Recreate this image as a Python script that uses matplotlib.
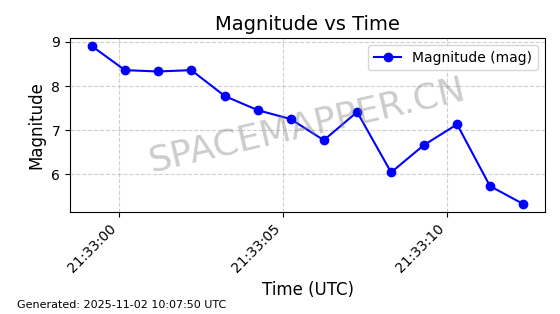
import matplotlib
matplotlib.use("Agg")
import matplotlib.pyplot as plt
import matplotlib.dates as mdates
import pandas as pd

# seconds after 21:33:00 UTC
time_offsets = [-0.823, 0.192, 1.198, 2.213, 3.238, 4.244, 5.240, 6.250,
                7.265, 8.300, 9.300, 10.310, 11.310, 12.330]
magnitudes = [8.91, 8.36, 8.33, 8.36, 7.77, 7.45, 7.25, 6.77,
              7.41, 6.04, 6.66, 7.13, 5.73, 5.32]
base_time = pd.Timestamp("2025-11-01 21:33:00")
times = [base_time + pd.Timedelta(seconds=s) for s in time_offsets]

fig = plt.figure(figsize=(5.6, 3.14), dpi=100)
ax = fig.add_axes([70/560, 1 - 212/314, (545-70)/560, (212-38)/314])
ax.plot(times, magnitudes, marker='o', color='blue', linestyle='-',
        linewidth=1.5, markersize=6, label='Magnitude (mag)')
ax.set_title('Magnitude vs Time', fontsize=14)
ax.set_xlabel('Time (UTC)', fontsize=12)
ax.set_ylabel('Magnitude', fontsize=12)
ax.grid(True, linestyle='--', alpha=0.6)
ax.legend(loc='upper right')
ax.xaxis.set_major_formatter(mdates.DateFormatter('%H:%M:%S'))
ax.xaxis.set_major_locator(mdates.SecondLocator(bysecond=range(0, 60, 5)))
plt.setp(ax.get_xticklabels(), rotation=45, ha='right')
ax.text(0.5, 0.5, 'SPACEMAPPER.CN', transform=ax.transAxes, fontsize=26,
        color='gray', alpha=0.4, rotation=13, ha='center', va='center')
fig.text(17/560, 1 - 305/314, 'Generated: 2025-11-02 10:07:50 UTC',
         fontsize=8, ha='left', va='center')
fig.savefig('out.png', dpi=100)
